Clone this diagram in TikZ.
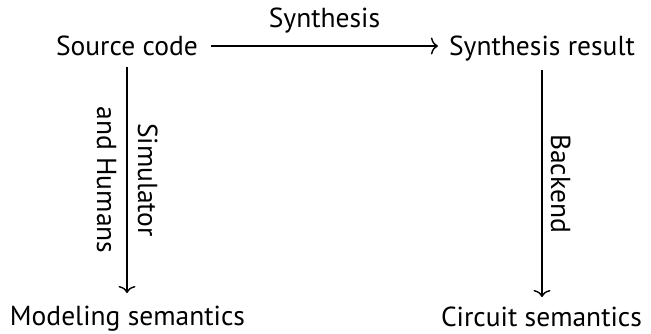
\documentclass[tikz,border=0pt]{standalone}
\usepackage{fontspec}
\setmainfont{PT Sans}
\usetikzlibrary{arrows.meta}
\begin{document}
\begin{tikzpicture}[x=1pt,y=-1pt,
  obj/.style={inner sep=0pt, anchor=base, font=\fontsize{27.5}{33}\selectfont},
  lbl/.style={inner sep=0pt, anchor=base, font=\fontsize{27.5}{33}\selectfont},
  arr/.style={line width=1.4pt, -{To[length=7pt,width=17pt]}}]
\useasboundingbox (0,0) rectangle (651,333);
\node[obj] (src) at (127,55) {Source code};
\node[obj] (res) at (542,55) {Synthesis result};
\node[obj] (mod) at (127.5,325) {Modeling semantics};
\node[obj] (circ) at (541.5,326) {Circuit semantics};
\draw[arr] ([xshift=13pt,yshift=9pt]src.base east) -- ([xshift=-11pt,yshift=9pt]res.base west)
  node[lbl, midway, yshift=19pt] (synl) {Synthesis};
\draw[arr] ([yshift=-12pt]src.base) -- ([yshift=32pt]src.base |- mod.base)
  node[lbl, midway, xshift=11pt, rotate=-90] (siml) {Simulator}
  node[lbl, midway, xshift=-30pt, rotate=-90] (huml) {and Humans};
\draw[arr] ([yshift=-15pt]res.base) -- ([yshift=29pt]res.base |- circ.base)
  node[lbl, midway, xshift=9pt, rotate=-90] (backl) {Backend};
\end{tikzpicture}
\end{document}
